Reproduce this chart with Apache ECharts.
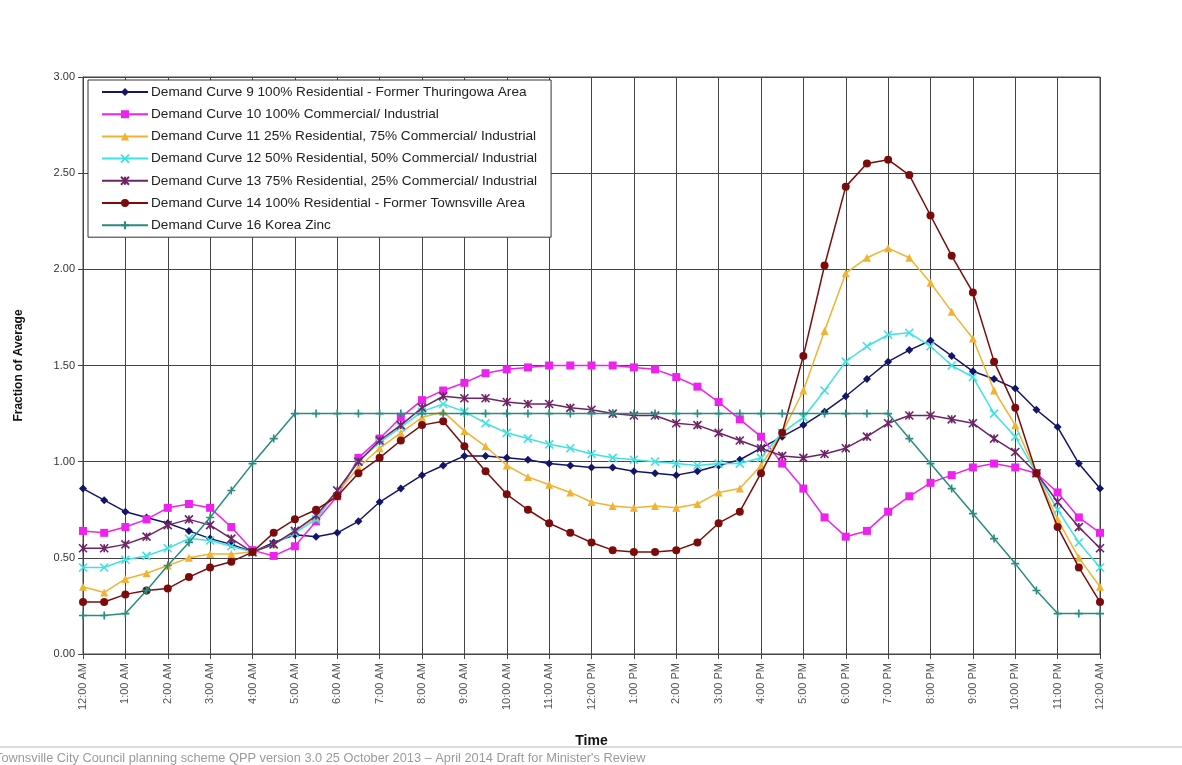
<!DOCTYPE html>
<html>
<head>
<meta charset="utf-8">
<script src="https://cdn.jsdelivr.net/npm/echarts@6/dist/echarts.min.js"></script>
<style>
html,body{margin:0;padding:0;background:#fff;}
#chart{width:1182px;height:765px;}
</style>
</head>
<body>
<div id="chart"></div>
<script>
// Half-hour time categories (49 points, 12:00 AM .. 12:00 AM)
const times = [
 "12:00 AM","12:30 AM","1:00 AM","1:30 AM","2:00 AM","2:30 AM","3:00 AM","3:30 AM","4:00 AM","4:30 AM",
 "5:00 AM","5:30 AM","6:00 AM","6:30 AM","7:00 AM","7:30 AM","8:00 AM","8:30 AM","9:00 AM","9:30 AM",
 "10:00 AM","10:30 AM","11:00 AM","11:30 AM","12:00 PM","12:30 PM","1:00 PM","1:30 PM","2:00 PM","2:30 PM",
 "3:00 PM","3:30 PM","4:00 PM","4:30 PM","5:00 PM","5:30 PM","6:00 PM","6:30 PM","7:00 PM","7:30 PM",
 "8:00 PM","8:30 PM","9:00 PM","9:30 PM","10:00 PM","10:30 PM","11:00 PM","11:30 PM","12:00 AM"
];
const yTicks = ["0.00","0.50","1.00","1.50","2.00","2.50","3.00"];

const seriesNames = [
 "Demand Curve 9 100% Residential - Former Thuringowa Area",
 "Demand Curve 10 100% Commercial/ Industrial",
 "Demand Curve 11 25% Residential, 75% Commercial/ Industrial",
 "Demand Curve 12 50% Residential, 50% Commercial/ Industrial",
 "Demand Curve 13 75% Residential, 25% Commercial/ Industrial",
 "Demand Curve 14 100% Residential - Former Townsville Area",
 "Demand Curve 16 Korea Zinc"
];

const curve9 = [0.86,0.80,0.74,0.71,0.68,0.64,0.60,0.57,0.53,
 0.58,0.62,0.61,0.63,0.69,0.79,0.86,0.93,0.98,
 1.03,1.03,1.02,1.01,0.99,0.98,0.97,0.97,0.95,0.94,0.93,
 0.95,0.98,1.01,1.07,1.13,1.19,1.26,1.34,1.43,1.52,
 1.58,1.63,1.55,1.47,1.43,1.38,1.27,1.18,0.99,0.86];
const curve10 = [0.64,0.63,0.66,0.70,0.76,0.78,0.76,0.66,0.54,
 0.51,0.56,0.69,0.82,1.02,1.12,1.23,1.32,1.37,
 1.41,1.46,1.48,1.49,1.50,1.50,1.50,1.50,1.49,1.48,1.44,
 1.39,1.31,1.22,1.13,0.99,0.86,0.71,0.61,0.64,0.74,
 0.82,0.89,0.93,0.97,0.99,0.97,0.94,0.84,0.71,0.63];
const curve11 = [0.35,0.32,0.39,0.42,0.46,0.50,0.52,0.52,0.53,
 0.57,0.64,0.71,0.84,0.97,1.07,1.15,1.23,1.26,
 1.16,1.08,0.98,0.92,0.88,0.84,0.79,0.77,0.76,0.77,0.76,
 0.78,0.84,0.86,0.98,1.15,1.37,1.68,1.98,2.06,2.11,
 2.06,1.93,1.78,1.64,1.37,1.19,0.94,0.70,0.50,0.35];
const curve12 = [0.45,0.45,0.49,0.51,0.55,0.60,0.59,0.56,0.53,
 0.57,0.63,0.70,0.85,1.00,1.10,1.18,1.26,1.30,
 1.26,1.20,1.15,1.12,1.09,1.07,1.04,1.02,1.01,1.00,0.99,
 0.98,0.99,0.99,1.02,1.15,1.23,1.37,1.52,1.60,1.66,
 1.67,1.60,1.50,1.44,1.25,1.13,0.94,0.75,0.58,0.45];
const curve13 = [0.55,0.55,0.57,0.61,0.67,0.70,0.67,0.60,0.53,
 0.57,0.64,0.72,0.85,1.00,1.11,1.19,1.28,1.34,
 1.33,1.33,1.31,1.30,1.30,1.28,1.27,1.25,1.24,1.24,1.20,
 1.19,1.15,1.11,1.07,1.03,1.02,1.04,1.07,1.13,1.20,
 1.24,1.24,1.22,1.20,1.12,1.05,0.94,0.79,0.66,0.55];
const curve14 = [0.27,0.27,0.31,0.33,0.34,0.40,0.45,0.48,0.53,
 0.63,0.70,0.75,0.82,0.94,1.02,1.11,1.19,1.21,
 1.08,0.95,0.83,0.75,0.68,0.63,0.58,0.54,0.53,0.53,0.54,
 0.58,0.68,0.74,0.94,1.15,1.55,2.02,2.43,2.55,2.57,
 2.49,2.28,2.07,1.88,1.52,1.28,0.94,0.66,0.45,0.27];
const curve16 = [0.20,0.20,0.21,0.33,0.46,0.58,0.71,0.85,0.99,
 1.12,1.25,1.25,1.25,1.25,1.25,1.25,1.25,1.25,
 1.25,1.25,1.25,1.25,1.25,1.25,1.25,1.25,1.25,1.25,1.25,
 1.25,1.25,1.25,1.25,1.25,1.25,1.25,1.25,1.25,1.25,
 1.12,0.99,0.86,0.73,0.60,0.47,0.33,0.21,0.21,0.21];

const allData = [curve9,curve10,curve11,curve12,curve13,curve14,curve16];
const colors = ["#14146a","#ee22ee","#f2b232","#3fe2e2","#6e2466","#7c0c0c","#2a8c80"];
const symbols = [
 "diamond","rect","triangle",
 "path://M0,0L10,10M10,0L0,10",
 "path://M0,0L10,10M10,0L0,10M5,0L5,10",
 "circle",
 "path://M5,0L5,10M1,5L9,5"
];
const sizes = [8,8,8,8,8,8,8];
const strokeOnly = [false,false,false,true,true,false,true];

const chart = echarts.init(document.getElementById('chart'), null, {renderer:'canvas'});
const series = allData.map((d,k)=>({
  name: seriesNames[k],
  type: 'line',
  data: d,
  symbol: symbols[k],
  symbolSize: sizes[k],
  showAllSymbol: true,
  lineStyle: {color: colors[k], width: 1.5},
  itemStyle: strokeOnly[k]
    ? {color: colors[k], borderColor: colors[k], borderWidth: 1.6}
    : {color: colors[k], borderColor: colors[k], borderWidth: 0},
  emphasis: {disabled: true},
  z: 3 + k
}));

chart.setOption({
  animation: false,
  backgroundColor: '#ffffff',
  grid: {left: 83, right: 82, top: 77, bottom: 111, show: true, borderColor: '#444', borderWidth: 1, backgroundColor: 'transparent'},
  legend: {
    orient: 'vertical', left: 88, top: 80,
    data: seriesNames,
    itemWidth: 46, itemHeight: 10, itemGap: 8.2,
    padding: [5, 14, 5, 13],
    backgroundColor: '#fff', borderColor: '#333', borderWidth: 1,
    textStyle: {fontFamily: 'Liberation Sans, Arial, sans-serif', fontSize: 13.6, color: '#222', padding: [0,0,0,-2]},
    selectedMode: false
  },
  xAxis: {
    type: 'category', data: times, boundaryGap: false,
    name: 'Time', nameLocation: 'middle', nameGap: 80,
    nameTextStyle: {fontFamily: 'Liberation Sans, Arial, sans-serif', fontWeight: 'bold', fontSize: 14, color: '#111'},
    axisLine: {lineStyle: {color: '#444', width: 1}},
    axisTick: {show: true, interval: 1, length: 5, lineStyle: {color: '#444'}},
    axisLabel: {interval: 1, rotate: 90, fontFamily: 'Liberation Sans, Arial, sans-serif', fontSize: 11, color: '#555', margin: 9},
    splitLine: {show: true, interval: 1, lineStyle: {color: '#444', width: 1}}
  },
  yAxis: {
    type: 'value', min: 0, max: 3, interval: 0.5,
    name: 'Fraction of Average', nameLocation: 'middle', nameRotate: 90, nameGap: 58,
    nameTextStyle: {fontFamily: 'Liberation Sans, Arial, sans-serif', fontWeight: 'bold', fontSize: 12, color: '#111'},
    axisLine: {show: true, lineStyle: {color: '#444', width: 1}},
    axisTick: {show: true, length: 5, lineStyle: {color: '#444'}},
    axisLabel: {fontFamily: 'Liberation Sans, Arial, sans-serif', fontSize: 11, color: '#333', margin: 8,
      formatter: v => yTicks[Math.round(v / 0.5)]},
    splitLine: {show: true, lineStyle: {color: '#444', width: 1}}
  },
  graphic: [
    {type: 'rect', left: 0, top: 746, shape: {width: 1182, height: 2}, style: {fill: '#dcdcdc'}},
    {type: 'text', left: -5, top: 752, style: {text: "Townsville City Council planning scheme QPP version 3.0 25 October 2013 \u2013 April 2014 Draft for Minister's Review",
      fill: '#9a9a9a', font: '12.8px "Liberation Sans", Arial, sans-serif'}}
  ],
  series: series
});
</script>
</body>
</html>
